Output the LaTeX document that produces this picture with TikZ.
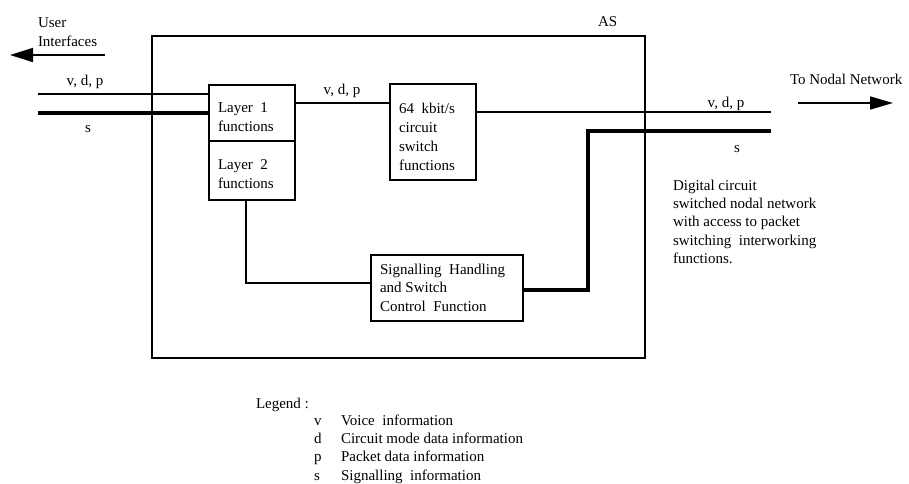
\documentclass[tikz,border=0pt]{standalone}
\usepackage{fontspec}
\setmainfont{Liberation Serif}
\usetikzlibrary{arrows.meta}
\begin{document}
\begin{tikzpicture}[x=1pt,y=-1pt,
  every node/.style={font=\fontsize{15}{18.5}\selectfont, inner sep=0pt, outer sep=0pt},
  box/.style={draw, line width=1.4pt, rectangle},
  txt/.style={align=left, anchor=north west},
  lbl/.style={anchor=base},
  vline/.style={line width=1.4pt},
  sline/.style={line width=3.6pt},
  bigarrow/.style={line width=1.6pt, -{Triangle[length=23pt,width=14pt]}}]
\path[use as bounding box] (0,0) rectangle (909,483);

% AS box
\node[box, line width=1.6pt, minimum width=493pt, minimum height=322pt] (AS) at (398.5,197) {};
\node[anchor=base west] (ASl) at (598,26) {AS};

% functional boxes
\node[box, minimum width=86pt, minimum height=56pt] (L1) at (252,113) {};
\node[box, minimum width=86pt, minimum height=59pt] (L2) at (252,170.5) {};
\node[box, minimum width=86pt, minimum height=96pt] (SW) at (433,132) {};
\node[box, minimum width=152pt, minimum height=66pt] (SIG) at (447,288) {};

\node[txt, font=\fontsize{15}{19}\selectfont] (L1t) at (218,102.7) {Layer\ \ 1\\functions};
\node[txt, font=\fontsize{15}{19}\selectfont] (L2t) at (218,159.7) {Layer\ \ 2\\functions};
\node[txt, font=\fontsize{15}{19}\selectfont] (SWt) at (399,102.7) {64\ \ kbit/s\\circuit\\switch\\functions};
\node[txt] (SIGt) at (380,263.7) {Signalling\ \ Handling\\and Switch\\Control\ \ Function};

% coordinates for free ends
\coordinate (inV) at (38,94);
\coordinate (inS) at (38,113);
\coordinate (mid) at (300,103);
\coordinate (outV) at (771,112);
\coordinate (outS) at (771,131);
\coordinate (sTurn) at (588,131);
\coordinate (sLow) at (588,290);
\coordinate (l2Down) at (246,283);

% connectors
\draw[vline] (inV) -- (inV -| L1.west);
\draw[sline] (inS) -- (inS -| L1.west);
\draw[vline] (mid -| L1.east) -- (mid -| SW.west);
\draw[vline] (outV -| SW.east) -- (outV);
\draw[sline, line join=miter] (outS) -- (sTurn) -- (sLow) -- (sLow -| SIG.east);
\draw[vline] (l2Down |- L2.south) -- (l2Down) -- (l2Down -| SIG.west);

% side arrows
\coordinate (ua1) at (105,55);
\coordinate (ua2) at (10,55);
\draw[bigarrow] (ua1) -- (ua2);
\coordinate (na1) at (798,103);
\coordinate (na2) at (893,103);
\draw[bigarrow, -{Triangle[length=23pt,width=13pt]}] (na1) -- (na2);

% labels
\node[txt, font=\fontsize{15}{19}\selectfont] (UI) at (38,18) {User\\Interfaces};
\node[anchor=base west] (TN) at (790,84) {To Nodal Network};
\node[lbl] (vdp1) at (85,85) {v, d, p};
\node[lbl] (s1) at (88,132) {s};
\node[lbl] (vdp2) at (342,94) {v, d, p};
\node[lbl] (vdp3) at (726,107) {v, d, p};
\node[lbl] (s2) at (737,152) {s};
\node[txt, font=\fontsize{15}{18.3}\selectfont] (DG) at (673,179.7) {Digital circuit\\switched nodal network\\with access to packet\\switching\ \ interworking\\functions.};

% legend
\node[anchor=base west] (LG) at (256,408) {Legend :};
\node[anchor=base west] (lv) at (314,425) {v};
\node[anchor=base west] (ld) at (314,443.3) {d};
\node[anchor=base west] (lp) at (314,461.6) {p};
\node[anchor=base west] (ls) at (314,480) {s};
\node[anchor=base west] (lvt) at (341,425) {Voice\ \ information};
\node[anchor=base west] (ldt) at (341,443.3) {Circuit mode data information};
\node[anchor=base west] (lpt) at (341,461.6) {Packet data information};
\node[anchor=base west] (lst) at (341,480) {Signalling\ \ information};
\end{tikzpicture}
\end{document}
